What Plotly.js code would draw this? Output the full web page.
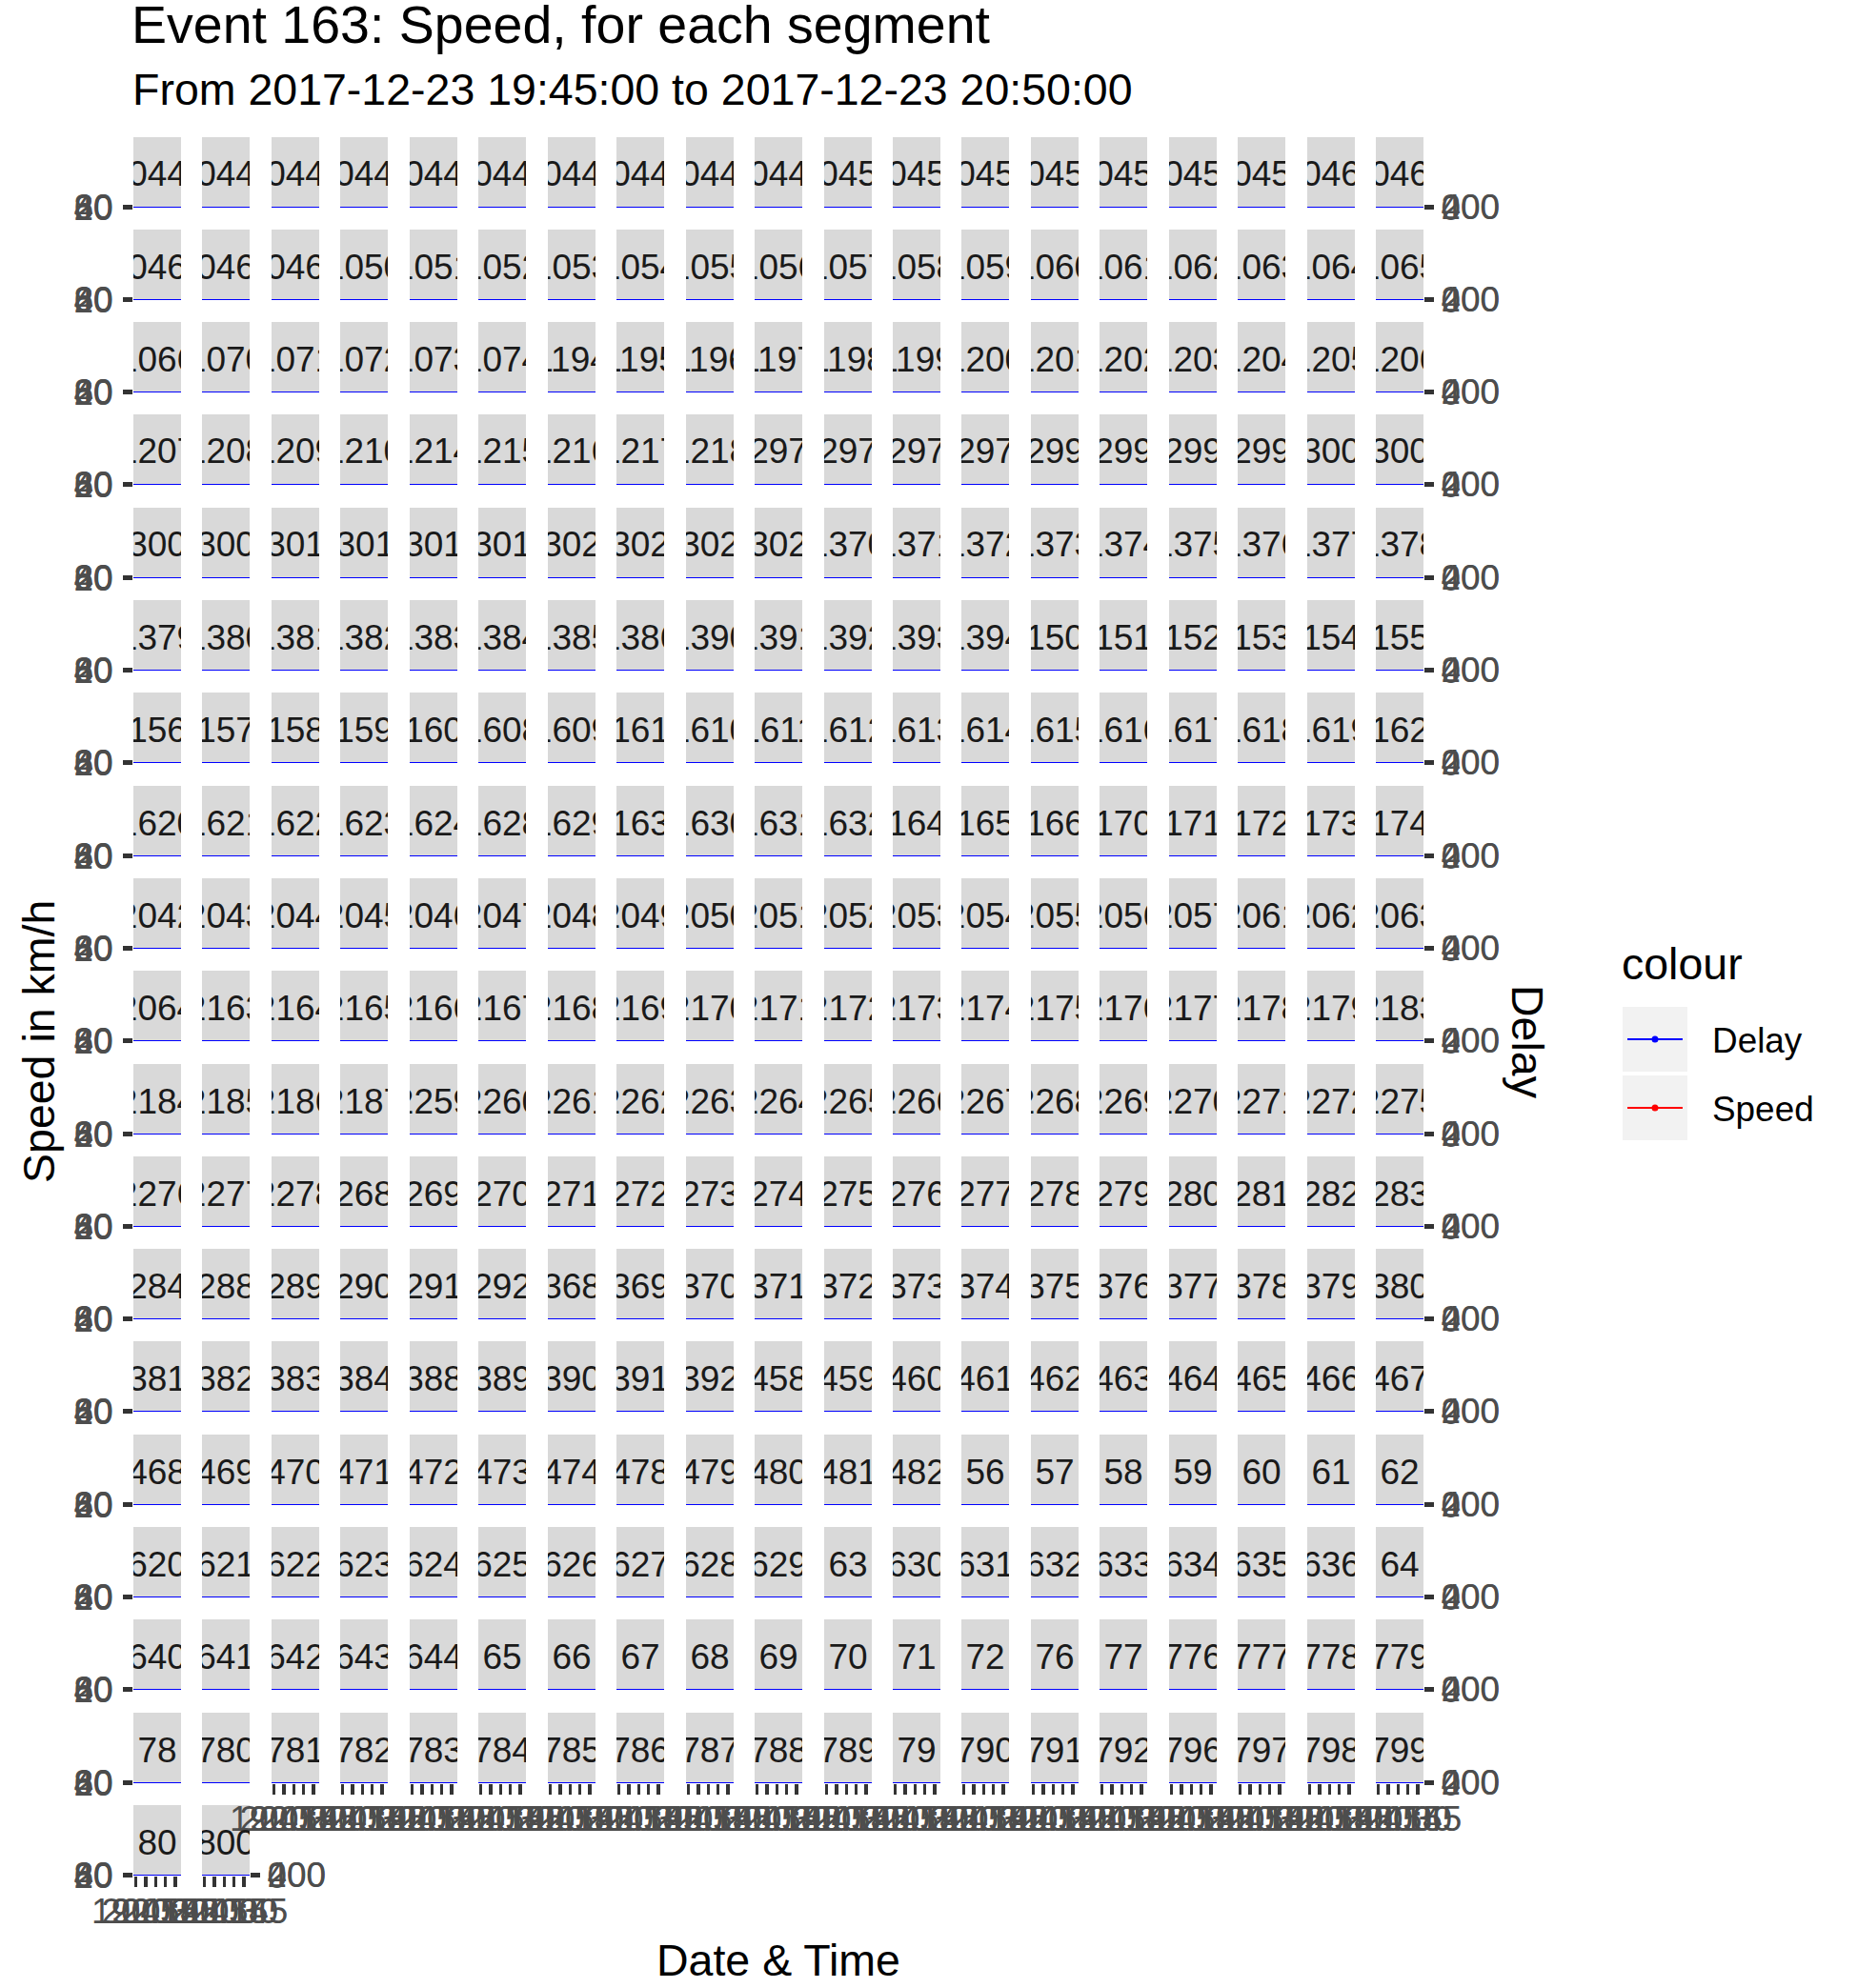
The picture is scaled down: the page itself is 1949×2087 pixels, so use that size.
<!DOCTYPE html>
<html>
<head>
<meta charset="utf-8">
<script src="https://cdn.plot.ly/plotly-3.0.1.min.js"></script>
<style>
html,body{margin:0;padding:0;background:#ffffff;}
#chart{width:1949px;height:2087px;}
</style>
</head>
<body>
<div id="chart"></div>
<script>
// ---------------- DATA ----------------
// Segment ids (facet labels), in the order the facets appear (string-sorted)
const segments = [
 '10440','10441','10442','10443','10444','10445','10446','10447','10448','10449','10450','10451','10452','10453','10454','10455','10456','10460','10461',
 '10462','10463','10464','1050','1051','1052','1053','1054','1055','1056','1057','1058','1059','1060','1061','1062','1063','1064','1065',
 '1066','1070','1071','1072','1073','1074','1194','1195','1196','1197','1198','1199','1200','1201','1202','1203','1204','1205','1206',
 '1207','1208','1209','1210','1214','1215','1216','1217','1218','12970','12971','12972','12973','12990','12991','12992','12993','13000','13001',
 '13002','13003','13010','13011','13012','13013','13020','13021','13022','13023','1370','1371','1372','1373','1374','1375','1376','1377','1378',
 '1379','1380','1381','1382','1383','1384','1385','1386','1390','1391','1392','1393','1394','150','151','152','153','154','155',
 '156','157','158','159','160','1608','1609','161','1610','1611','1612','1613','1614','1615','1616','1617','1618','1619','162',
 '1620','1621','1622','1623','1624','1628','1629','163','1630','1631','1632','164','165','166','170','171','172','173','174',
 '2042','2043','2044','2045','2046','2047','2048','2049','2050','2051','2052','2053','2054','2055','2056','2057','2061','2062','2063',
 '2064','2163','2164','2165','2166','2167','2168','2169','2170','2171','2172','2173','2174','2175','2176','2177','2178','2179','2183',
 '2184','2185','2186','2187','2259','2260','2261','2262','2263','2264','2265','2266','2267','2268','2269','2270','2271','2272','2275',
 '2276','2277','2278','268','269','270','271','272','273','274','275','276','277','278','279','280','281','282','283',
 '284','288','289','290','291','292','368','369','370','371','372','373','374','375','376','377','378','379','380',
 '381','382','383','384','388','389','390','391','392','458','459','460','461','462','463','464','465','466','467',
 '468','469','470','471','472','473','474','478','479','480','481','482','56','57','58','59','60','61','62',
 '620','621','622','623','624','625','626','627','628','629','63','630','631','632','633','634','635','636','64',
 '640','641','642','643','644','65','66','67','68','69','70','71','72','76','77','776','777','778','779',
 '78','780','781','782','783','784','785','786','787','788','789','79','790','791','792','796','797','798','799',
 '80','800'
];

// Time stamps of the observations (panels are collapsed, values are not readable; one typical profile)
const times = [
 '2017-12-23 19:45:00','2017-12-23 19:50:00','2017-12-23 19:55:00','2017-12-23 20:00:00',
 '2017-12-23 20:05:00','2017-12-23 20:10:00','2017-12-23 20:15:00','2017-12-23 20:20:00',
 '2017-12-23 20:25:00','2017-12-23 20:30:00','2017-12-23 20:35:00','2017-12-23 20:40:00',
 '2017-12-23 20:45:00','2017-12-23 20:50:00'
];
const speedKmh = [52, 49, 46, 42, 38, 35, 33, 34, 37, 41, 45, 48, 50, 51];
const delaySec = [40, 60, 85, 120, 160, 200, 230, 220, 180, 140, 100, 70, 50, 45];

// Tick labels
const timeTicks = ['2017-12-23 19:45:00','2017-12-23 20:00:00','2017-12-23 20:15:00','2017-12-23 20:30:00','2017-12-23 20:45:00'];
const timeTickText = ['19:45','20:00','20:15','20:30','20:45'];
const speedTicks = [20, 40, 60, 80];
const delayTicks = [0, 200, 400];

const titleText = 'Event 163: Speed, for each segment';
const subtitleText = 'From 2017-12-23 19:45:00 to 2017-12-23 20:50:00';

// ---------------- LAYOUT GEOMETRY ----------------
const W = 1949, H = 2087;
const NCOL = 19;
const colLeft0 = 140, colPitch = 72.45, panelW = 50;
const rowAxis0 = 217.5, rowPitch = 97.3;
const stripH = 73;
const FONT = 'Liberation Sans, Arial, sans-serif';
const BASE = 46.5;
const SMALL = 36.9;
const STRIP = 37;
const CLIPW = 50;
const px = x => x / W;
const py = y => 1 - y / H;

function toMs(s){ return new Date(s.replace(' ', 'T') + 'Z').getTime(); }
function fromMs(ms){ return new Date(ms).toISOString().replace('T',' ').replace('Z',''); }
const tMin = toMs(times[0]), tMax = toMs(times[times.length-1]);
const pad = 0.05 * (tMax - tMin);
const xRange = [fromMs(tMin - pad), fromMs(tMax + pad)];

const data = [];
const layout = {
  width: W, height: H,
  margin: {l:0, r:0, t:0, b:0},
  paper_bgcolor: '#FFFFFF',
  plot_bgcolor: '#EBEBEB',
  showlegend: false,
  font: {family: FONT, color: '#000000'},
  annotations: [],
  shapes: []
};

const N = segments.length;
const tickFont = {family: FONT, size: SMALL, color: '#4D4D4D'};

segments.forEach((seg, i) => {
  const r = Math.floor(i / NCOL), c = i % NCOL;
  const left = Math.round(colLeft0 + c * colPitch);
  const axisY = Math.round(rowAxis0 + r * rowPitch);
  const xa = i === 0 ? 'x' : 'x' + (i + 1);
  const ya = i === 0 ? 'y' : 'y' + (i + 1);
  const yr = 'y' + (N + 1 + i);
  const xkey = i === 0 ? 'xaxis' : 'xaxis' + (i + 1);
  const ykey = i === 0 ? 'yaxis' : 'yaxis' + (i + 1);
  const yrkey = 'yaxis' + (N + 1 + i);
  const isBottom = (i + NCOL >= N);
  const isLeft = (c === 0);
  const isRight = (c === NCOL - 1) || (i === N - 1);

  layout[xkey] = {
    domain: [px(left), px(left + panelW)], anchor: ya, type: 'date', range: xRange,
    visible: isBottom, showgrid: false, zeroline: false, showline: false,
    ticks: 'outside', ticklen: 11, tickwidth: 3.5, tickcolor: '#333333',
    tickmode: 'array', tickvals: timeTicks, ticktext: timeTickText, tickangle: 0,
    tickfont: tickFont, ticklabelstandoff: -6, fixedrange: true
  };
  layout[ykey] = {
    domain: [py(axisY), py(axisY - 1)], anchor: xa, range: [15, 85],
    visible: isLeft, showgrid: false, zeroline: false, showline: false,
    ticks: 'outside', ticklen: 10, tickwidth: 3.5, tickcolor: '#333333',
    tickmode: 'array', tickvals: speedTicks, tickfont: tickFont, ticklabelstandoff: 3, fixedrange: true
  };
  layout[yrkey] = {
    overlaying: ya, side: 'right', anchor: xa, range: [-20, 420],
    visible: isRight, showgrid: false, zeroline: false, showline: false,
    ticks: 'outside', ticklen: 10, tickwidth: 3.5, tickcolor: '#333333',
    tickmode: 'array', tickvals: delayTicks, tickfont: tickFont, ticklabelstandoff: 0, fixedrange: true
  };

  data.push({
    type: 'scatter', mode: 'lines+markers', name: 'Speed', x: times, y: speedKmh,
    xaxis: xa, yaxis: ya, line: {color: '#FF0000', width: 4}, marker: {color: '#FF0000', size: 7},
    hoverinfo: 'skip', showlegend: false
  });
  data.push({
    type: 'scatter', mode: 'lines+markers', name: 'Delay', x: times, y: delaySec,
    xaxis: xa, yaxis: yr, line: {color: '#0000FF', width: 4}, marker: {color: '#0000FF', size: 7},
    hoverinfo: 'skip', showlegend: false
  });

  // facet strip background (below axis labels) and clipped label
  const sTop = axisY - 1 - stripH, sBot = axisY - 1;
  layout.shapes.push({type:'rect', xref:'paper', yref:'paper', layer:'below',
    x0: px(left), x1: px(left + panelW), y0: py(sBot), y1: py(sTop),
    fillcolor:'#D9D9D9', line:{width:0}});
  layout.annotations.push({
    xref: 'paper', yref: 'paper', x: px(left + panelW / 2), y: py((sTop + sBot) / 2 + 2.5),
    xanchor: 'center', yanchor: 'middle', showarrow: false,
    text: seg, width: CLIPW, height: stripH - 6,
    borderpad: 0, borderwidth: 0, align: 'center', valign: 'middle',
    font: {family: FONT, size: STRIP, color: '#1A1A1A'}
  });
});

// titles
layout.annotations.push(
  {xref:'paper', yref:'paper', x: px(137), y: py(26), xanchor:'left', yanchor:'middle', showarrow:false,
   text: titleText, font:{family: FONT, size: 55.5, color:'#000000'}, borderpad:0},
  {xref:'paper', yref:'paper', x: px(137.5), y: py(94), xanchor:'left', yanchor:'middle', showarrow:false,
   text: subtitleText, font:{family: FONT, size: BASE, color:'#000000'}, borderpad:0},
  {xref:'paper', yref:'paper', x: px(816.5), y: py(2058), xanchor:'center', yanchor:'middle', showarrow:false,
   text: 'Date &amp; Time', font:{family: FONT, size: BASE, color:'#000000'}, borderpad:0},
  {xref:'paper', yref:'paper', x: px(41), y: py(1094), xanchor:'center', yanchor:'middle', showarrow:false,
   text: 'Speed in km/h', textangle: -90, font:{family: FONT, size: BASE, color:'#000000'}, borderpad:0},
  {xref:'paper', yref:'paper', x: px(1603), y: py(1094), xanchor:'center', yanchor:'middle', showarrow:false,
   text: 'Delay', textangle: 90, font:{family: FONT, size: BASE, color:'#000000'}, borderpad:0}
);

// legend (guide)
const legendItems = ['Delay', 'Speed'];
const legendColors = ['#0000FF', '#FF0000'];
layout.annotations.push({xref:'paper', yref:'paper', x: px(1701), y: py(1012), xanchor:'left', yanchor:'middle',
  showarrow:false, text:'colour', font:{family: FONT, size: BASE, color:'#000000'}, borderpad:0});
legendItems.forEach((name, k) => {
  const top = 1057 + k * 72, bot = top + 68, cy = (top + bot) / 2;
  layout.shapes.push({type:'rect', xref:'paper', yref:'paper', x0: px(1703), x1: px(1771), y0: py(bot), y1: py(top),
    fillcolor:'#F2F2F2', line:{width:0}, layer:'below'});
  layout.shapes.push({type:'line', xref:'paper', yref:'paper', x0: px(1708), x1: px(1766), y0: py(cy), y1: py(cy),
    line:{color: legendColors[k], width: 2}});
  layout.shapes.push({type:'circle', xref:'paper', yref:'paper', x0: px(1733.5), x1: px(1740.5), y0: py(cy + 3.5), y1: py(cy - 3.5),
    fillcolor: legendColors[k], line:{width:0}});
  layout.annotations.push({xref:'paper', yref:'paper', x: px(1796), y: py(cy + 1), xanchor:'left', yanchor:'middle',
    showarrow:false, text: name, font:{family: FONT, size: SMALL, color:'#000000'}, borderpad:0});
});

Plotly.newPlot('chart', data, layout, {staticPlot: true, displayModeBar: false});
</script>
</body>
</html>
